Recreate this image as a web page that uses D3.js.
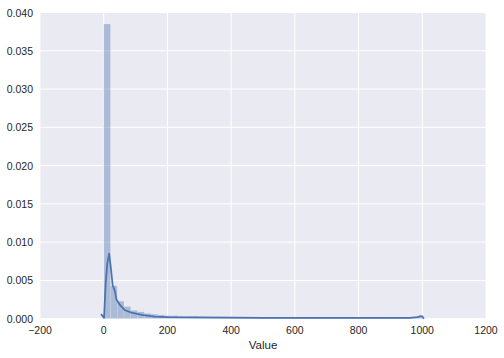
<!DOCTYPE html>
<html>
<head>
<meta charset="utf-8">
<script src="https://cdn.jsdelivr.net/npm/d3@7"></script>
<style>
  body { margin: 0; background: #fff; }
  svg text { font-family: "Liberation Sans", Arial, sans-serif; fill: #262626; }
</style>
</head>
<body>
<svg id="chart" width="504" height="358"></svg>
<script>
// histogram: 47 bins over 0..1000, density values
const binStart = 0
const binEnd = 1000
const density = [
  0.0385, 0.0043, 0.0023, 0.0016, 0.0011, 0.0009, 0.0007, 0.0006, 0.0005, 0.0004,
  0.0004, 0.0003, 0.0003, 0.0003, 0.0002, 0.0002, 0.0002, 0.0002, 0.0002, 0.0002,
  0.00015, 0.00015, 0.00015, 0.00015, 0.00012, 0.00012, 0.00012, 0.0001, 0.0001, 0.0001,
  0.0001, 0.0001, 0.0001, 0.0001, 0.0001, 0.0001, 0.0001, 0.0001, 0.0001, 0.0001,
  0.0001, 0.0001, 0.0001, 0.0001, 0.0001, 0.00015, 0.0003
]

// kde curve
const kdeX = [-8, -3, 1, 6, 11, 17, 23, 28, 35, 40, 51, 67, 87, 119, 160, 200, 300, 400, 500, 600, 700, 800, 900, 960, 985, 995, 1000, 1005]
const kdeY = [0.0006, 0.0003, 0.0001, 0.0045, 0.0072, 0.0085, 0.0064, 0.0044, 0.0036, 0.0025, 0.0018, 0.0011, 0.0008, 0.0005, 0.00028, 0.00022, 0.00018, 0.00014, 0.00012, 0.00011, 0.0001, 0.0001, 0.0001, 0.00012, 0.0002, 0.00035, 0.0003, 0.0]

const xTicks = [-200, 0, 200, 400, 600, 800, 1000, 1200]
const yTicks = [0.000, 0.005, 0.010, 0.015, 0.020, 0.025, 0.030, 0.035, 0.040]

const padL = 40, padR = 486, padT = 12.5, padB = 318.7
const blue = '#4C72B0'

const svg = d3.select('#chart')

const x = d3.scaleLinear().domain([-200, 1200]).range([padL, padR])
const y = d3.scaleLinear().domain([0, 0.04]).range([padB, padT])

svg.append('rect')
  .attr('x', padL).attr('y', padT)
  .attr('width', padR - padL).attr('height', padB - padT)
  .attr('fill', '#EAEAF2')

// grid
svg.append('g').selectAll('line').data(xTicks).join('line')
  .attr('x1', d => x(d)).attr('x2', d => x(d))
  .attr('y1', padT).attr('y2', padB)
  .attr('stroke', '#fff').attr('stroke-width', 1)
svg.append('g').selectAll('line').data(yTicks).join('line')
  .attr('x1', padL).attr('x2', padR)
  .attr('y1', d => y(d)).attr('y2', d => y(d))
  .attr('stroke', '#fff').attr('stroke-width', 1)

// bars
const bw = (binEnd - binStart) / density.length
svg.append('g').selectAll('rect').data(density).join('rect')
  .attr('x', (d, i) => x(binStart + i * bw))
  .attr('width', x(bw) - x(0))
  .attr('y', d => y(d))
  .attr('height', d => y(0) - y(d))
  .attr('fill', blue).attr('fill-opacity', 0.4)
  .attr('stroke', '#fff').attr('stroke-opacity', 0.3).attr('stroke-width', 0.5)

// kde line
const line = d3.line().x(d => x(d[0])).y(d => y(d[1]))
svg.append('path')
  .datum(d3.zip(kdeX, kdeY))
  .attr('d', line)
  .attr('fill', 'none').attr('stroke', blue).attr('stroke-width', 1.75)
  .attr('stroke-linejoin', 'round')

// axes (no spines, no tick marks)
const minus = n => String(n).replace('-', '\u2212')
svg.append('g').selectAll('text').data(xTicks).join('text')
  .attr('x', d => x(d)).attr('y', padB + 15)
  .attr('text-anchor', 'middle').attr('font-size', 10.5)
  .text(d => minus(d))
svg.append('g').selectAll('text').data(yTicks).join('text')
  .attr('x', padL - 7).attr('y', d => y(d) + 4)
  .attr('text-anchor', 'end').attr('font-size', 10.5)
  .text(d => d.toFixed(3))

svg.append('text')
  .attr('x', (padL + padR) / 2).attr('y', padB + 30)
  .attr('text-anchor', 'middle').attr('font-size', 11.5)
  .text('Value')
</script>
</body>
</html>
